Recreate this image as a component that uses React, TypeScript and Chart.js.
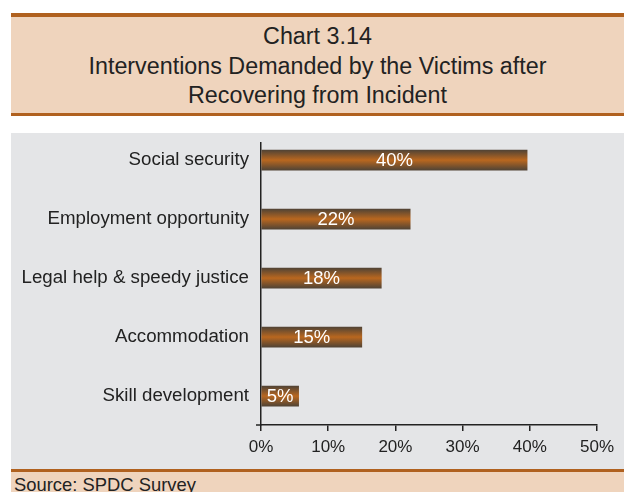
import React, { useEffect, useRef } from "react";
import { Chart, registerables } from "chart.js";

Chart.register(...registerables);

const categories = [
  "Social security",
  "Employment opportunity",
  "Legal help & speedy justice",
  "Accommodation",
  "Skill development",
];
const values = [39.6, 22.2, 17.9, 15.0, 5.6];
const valueLabels = ["40%", "22%", "18%", "15%", "5%"];
const xTickValues = [0, 10, 20, 30, 40, 50];
const titleLines = [
  "Chart 3.14",
  "Interventions Demanded by the Victims after",
  "Recovering from Incident",
];
const sourceText = "Source: SPDC Survey";

const FONT = "'Liberation Sans', Arial, Helvetica, sans-serif";
const BROWN = "#b0611f";
const PEACH = "#efd4bd";
const GREY = "#e4e5e7";
const TEXT = "#222222";

export default function App() {
  const canvasRef = useRef<HTMLCanvasElement | null>(null);

  useEffect(() => {
    const canvas = canvasRef.current;
    if (!canvas) return;

    const labelPlugin = {
      id: "barLabels",
      afterDatasetsDraw(chart: any) {
        const ctx = chart.ctx;
        const meta = chart.getDatasetMeta(0);
        ctx.save();
        ctx.fillStyle = "#ffffff";
        ctx.font = `18.5px ${FONT}`;
        ctx.textAlign = "center";
        ctx.textBaseline = "middle";
        meta.data.forEach((el: any, i: number) => {
          const cx = (el.base + el.x) / 2;
          ctx.fillText(valueLabels[i], cx, el.y + 1);
        });
        ctx.restore();
      },
      afterDraw(chart: any) {
        const { ctx, chartArea } = chart;
        ctx.save();
        ctx.strokeStyle = TEXT;
        ctx.lineWidth = 1.5;
        ctx.beginPath();
        ctx.moveTo(chartArea.left - 5, chartArea.bottom);
        ctx.lineTo(chartArea.left, chartArea.bottom);
        ctx.stroke();
        ctx.restore();
      },
    };

    const chart = new Chart(canvas, {
      type: "bar",
      data: {
        datasets: [
          {
            data: values.map((v, i) => ({ x: v, y: i })) as any,
            barThickness: 20,
            borderWidth: 0,
            backgroundColor: (c: any) => {
              const ys = c.chart.scales?.y;
              if (!ys || c.type !== "data") return "#b5651d";
              const cy = ys.getPixelForValue(c.dataIndex);
              if (!Number.isFinite(cy)) return "#b5651d";
              const g = c.chart.ctx.createLinearGradient(0, cy - 10, 0, cy + 10);
              g.addColorStop(0, "#524435");
              g.addColorStop(0.5, "#b9671f");
              g.addColorStop(1, "#524435");
              return g;
            },
          },
        ],
      },
      options: {
        indexAxis: "y",
        responsive: false,
        animation: false,
        devicePixelRatio: 1,
        layout: { padding: { top: 10, bottom: 14, right: 27, left: 0 } },
        plugins: {
          legend: { display: false },
          tooltip: { enabled: false },
          title: { display: false },
        },
        scales: {
          x: {
            type: "linear",
            min: 0,
            max: 50,
            afterBuildTicks: (scale: any) => {
              scale.ticks = xTickValues.map((v) => ({ value: v }));
            },
            afterFit: (scale: any) => {
              scale.height = 30;
            },
            ticks: {
              callback: (v: any) => `${v}%`,
              font: { family: FONT, size: 17 },
              color: TEXT,
              padding: 6,
              maxRotation: 0,
            },
            grid: {
              display: true,
              drawOnChartArea: false,
              drawTicks: true,
              tickLength: 6,
              color: TEXT,
              lineWidth: 1.5,
            },
            border: { display: true, color: TEXT, width: 1.5 },
          },
          y: {
            type: "linear",
            offset: false,
            min: -0.29,
            max: 4.49,
            reverse: true,
            afterBuildTicks: (scale: any) => {
              scale.ticks = categories.map((_, i) => ({ value: i }));
            },
            afterFit: (scale: any) => {
              scale.width = 250;
              scale.paddingTop = 0;
              scale.paddingBottom = 0;
            },
            ticks: {
              callback: (v: any) => categories[v as number] ?? "",
              font: { family: FONT, size: 18.7 },
              color: TEXT,
              padding: 12,
            },
            grid: { display: false, drawTicks: false, offset: false },
            border: { display: true, color: TEXT, width: 1.5 },
          },
        },
      } as any,
      plugins: [labelPlugin],
    });

    return () => chart.destroy();
  }, []);

  return (
    <div
      style={{
        position: "absolute",
        left: 0,
        top: 0,
        width: 624,
        height: 492,
        background: "#ffffff",
        overflow: "hidden",
        fontFamily: FONT,
      }}
    >
      <div
        style={{
          position: "absolute",
          left: 11,
          top: 13,
          width: 613,
          height: 103,
          background: PEACH,
          boxSizing: "border-box",
          borderTop: `4px solid ${BROWN}`,
          borderBottom: `3px solid ${BROWN}`,
        }}
      />
      <div
        style={{
          position: "absolute",
          left: 11,
          top: 22,
          width: 613,
          textAlign: "center",
          fontSize: 23.3,
          lineHeight: "29.5px",
          color: TEXT,
        }}
      >
        {titleLines.map((t, i) => (
          <div key={i}>{t}</div>
        ))}
      </div>

      <div
        style={{
          position: "absolute",
          left: 11,
          top: 133,
          width: 613,
          height: 336,
          background: GREY,
        }}
      >
        <canvas ref={canvasRef} width={613} height={336} style={{ display: "block" }} />
      </div>

      <div
        style={{
          position: "absolute",
          left: 11,
          top: 469,
          width: 613,
          height: 23,
          background: PEACH,
          boxSizing: "border-box",
          borderTop: `3px solid ${BROWN}`,
        }}
      />
      <div
        style={{
          position: "absolute",
          left: 14,
          top: 474,
          fontSize: 18.4,
          lineHeight: "normal",
          color: TEXT,
          whiteSpace: "nowrap",
        }}
      >
        {sourceText}
      </div>
    </div>
  );
}
